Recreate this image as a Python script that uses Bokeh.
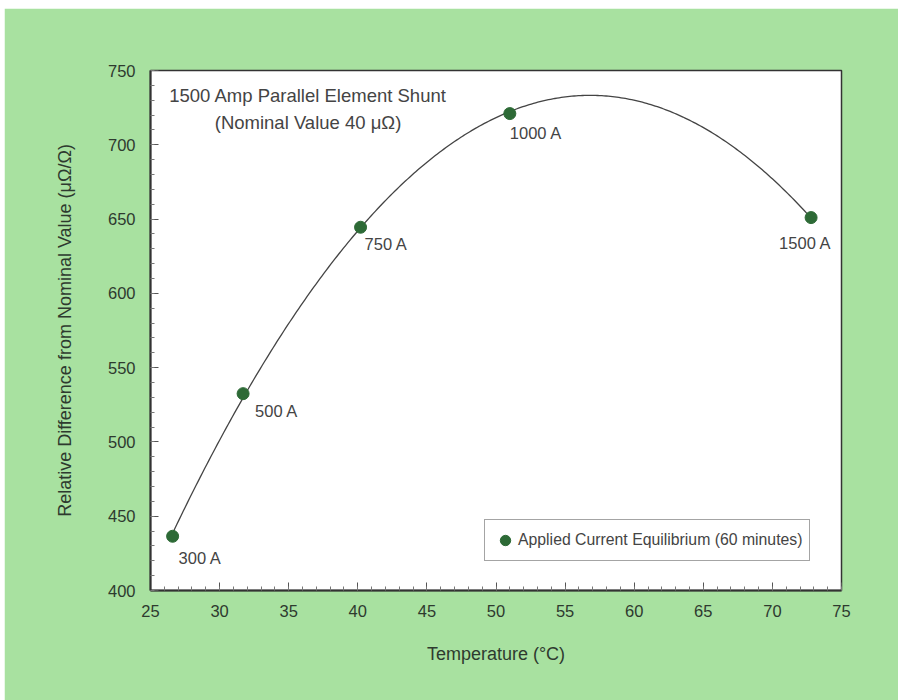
import numpy as np
from bokeh.plotting import figure
from bokeh.models import (ColumnDataSource, Range1d, SingleIntervalTicker, Label,
                          Legend, LegendItem)
from bokeh.core.properties import value
from bokeh.embed import file_html
from bokeh.resources import INLINE

# Equilibrium readings after 60 minutes at each applied current
temperature_c = [26.6, 31.7, 40.2, 51.0, 72.8]
rel_diff = [436.5, 532.5, 644.5, 721.0, 651.0]
current_labels = ["300 A", "500 A", "750 A", "1000 A", "1500 A"]

x_ticks_start, x_ticks_end = 25, 75
y_ticks_start, y_ticks_end = 400, 750

# pixel offsets of each current label from its point
label_dx = [6, 12, 4, 0, -32]
label_dy = [22, 17, 17, 19, 25]

FONT = "Liberation Sans"
GREEN_BG = "#a8e1a0"
AXIS_TEXT = "#2e3a2f"
PLOT_TEXT = "#444444"
DOT = "#2d6a36"

p = figure(width=894, height=692, output_backend="svg", toolbar_location=None,
           x_range=Range1d(x_ticks_start, x_ticks_end),
           y_range=Range1d(y_ticks_start, y_ticks_end),
           min_border_left=146, min_border_right=57,
           min_border_top=62, min_border_bottom=110,
           background_fill_color="white", border_fill_color=GREEN_BG,
           outline_line_color="#333333", outline_line_width=1.5)
p.margin = (8, 0, 0, 4)
p.xgrid.visible = False
p.ygrid.visible = False

p.xaxis.ticker = SingleIntervalTicker(interval=5, num_minor_ticks=5)
p.yaxis.ticker = SingleIntervalTicker(interval=50, num_minor_ticks=5)

for ax in (p.xaxis[0], p.yaxis[0]):
    ax.axis_line_color = "#333333"
    ax.axis_line_width = 2
    ax.major_tick_in = 8
    ax.major_tick_out = 0
    ax.minor_tick_in = 4
    ax.minor_tick_out = 0
    ax.major_tick_line_color = "#555555"
    ax.minor_tick_line_color = "#777777"
    ax.major_label_text_font = FONT
    ax.major_label_text_font_size = "16.5px"
    ax.major_label_text_color = AXIS_TEXT
    ax.axis_label_text_font = FONT
    ax.axis_label_text_font_size = "18px"
    ax.axis_label_text_font_style = "normal"
    ax.axis_label_text_color = AXIS_TEXT

p.xaxis.axis_label = "Temperature (°C)"
p.yaxis.axis_label = "Relative Difference from Nominal Value (μΩ/Ω)"
p.xaxis.major_label_standoff = 14
p.xaxis.axis_label_standoff = 24
p.yaxis.major_label_standoff = 15
p.yaxis.axis_label_standoff = 30

# second-order fit through the equilibrium points
xs = np.array(temperature_c)
ys = np.array(rel_diff)
coef = np.polyfit(xs, ys, 2)
xfit = np.linspace(xs.min(), xs.max(), 300)
yfit = np.polyval(coef, xfit)
p.line(xfit, yfit, line_color="#444444", line_width=1.3)

src = ColumnDataSource(dict(x=temperature_c, y=rel_diff, label=current_labels,
                            dx=label_dx, dy=label_dy))
pts = p.scatter("x", "y", source=src, size=12, fill_color=DOT, line_color=DOT)

p.text("x", "y", text="label", source=src, x_offset="dx", y_offset="dy",
       text_font=value(FONT), text_font_size="16.5px",
       text_color=PLOT_TEXT, text_align="left", text_baseline="middle")

p.add_layout(Label(x=36.4, y=733.2, text="1500 Amp Parallel Element Shunt",
                   text_font=FONT, text_font_size="18.5px", text_color=PLOT_TEXT,
                   text_align="center", text_baseline="middle"))
p.add_layout(Label(x=36.4, y=715.0, text="(Nominal Value 40 μΩ)",
                   text_font=FONT, text_font_size="18.5px", text_color=PLOT_TEXT,
                   text_align="center", text_baseline="middle"))

legend = Legend(items=[LegendItem(label="Applied Current Equilibrium (60 minutes)",
                                  renderers=[pts])],
                location=(334, 29), orientation="vertical",
                label_text_font=FONT, label_text_font_size="15.8px",
                label_text_color=PLOT_TEXT, glyph_width=26, glyph_height=26,
                label_height=26, label_standoff=0, padding=7, spacing=0,
                margin=0, border_line_color="#4a4a4a", border_line_width=1.3,
                background_fill_color="white", background_fill_alpha=1.0)
p.add_layout(legend)

open("out.html", "w").write(file_html(p, INLINE))
